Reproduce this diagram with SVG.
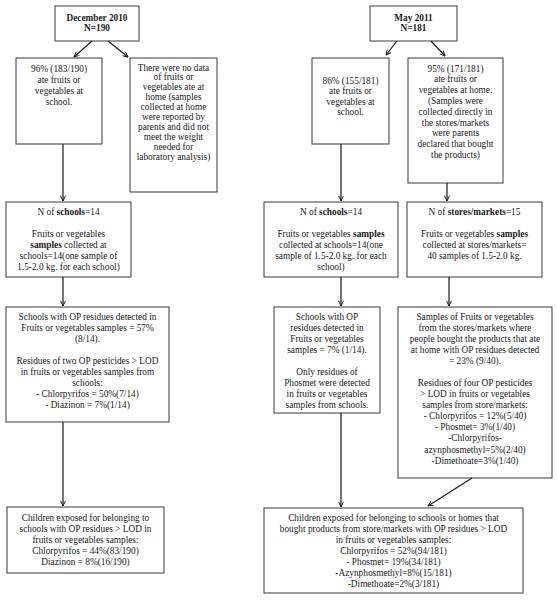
<svg xmlns="http://www.w3.org/2000/svg" width="557" height="600" viewBox="0 0 557 600">
<style>
.box{fill:#fff;stroke:#4a4a4a;stroke-width:1.1}
text{font-family:"Liberation Serif","Times New Roman",serif;font-size:9.3px;fill:#1a1a1a;text-anchor:middle}
.b{font-weight:bold}
.conn path{fill:none;stroke:#1a1a1a;stroke-width:1.2;marker-end:url(#ah)}
</style>
<defs>
<marker id="ah" viewBox="0 0 10 10" refX="9.5" refY="5" markerWidth="6" markerHeight="6" orient="auto" markerUnits="userSpaceOnUse">
<path d="M1,1 L9.5,5 L1,9" fill="none" stroke="#1a1a1a" stroke-width="1.6"/>
</marker>
</defs>
<rect width="557" height="600" fill="#fff"/>

<g id="dec2010">
<rect class="box" x="55" y="6" width="84" height="35"/>
<text class="b"><tspan x="97" y="20.5">December 2010</tspan><tspan x="97" y="31">N=190</tspan></text>
</g>
<g id="may2011">
<rect class="box" x="370" y="6" width="87" height="35"/>
<text class="b"><tspan x="413.5" y="20.5">May 2011</tspan><tspan x="413.5" y="31">N=181</tspan></text>
</g>

<g id="dec-school">
<rect class="box" x="16" y="58" width="86" height="86"/>
<text><tspan x="59" y="71.5">96% (183/190)</tspan><tspan x="59" y="82.5">ate fruits or</tspan><tspan x="59" y="93.5">vegetables at</tspan><tspan x="59" y="104.5">school.</tspan></text>
</g>
<g id="dec-home">
<rect class="box" x="130" y="58" width="87" height="134"/>
<text><tspan x="173.5" y="70.5">There were no data</tspan><tspan x="173.5" y="80.4">of fruits or</tspan><tspan x="173.5" y="90.3">vegetables ate at</tspan><tspan x="173.5" y="100.2">home (samples</tspan><tspan x="173.5" y="110.1">collected at home</tspan><tspan x="173.5" y="120">were reported by</tspan><tspan x="173.5" y="129.9">parents and did not</tspan><tspan x="173.5" y="139.8">meet the weight</tspan><tspan x="173.5" y="149.7">needed for</tspan><tspan x="173.5" y="159.6">laboratory analysis)</tspan></text>
</g>
<g id="may-school">
<rect class="box" x="312" y="58" width="77" height="86"/>
<text><tspan x="350.5" y="83.5">86% (155/181)</tspan><tspan x="350.5" y="94">ate fruits or</tspan><tspan x="350.5" y="104.5">vegetables at</tspan><tspan x="350.5" y="115">school.</tspan></text>
</g>
<g id="may-home">
<rect class="box" x="408" y="58" width="95" height="125"/>
<text><tspan x="455.5" y="71.5">95% (171/181)</tspan><tspan x="455.5" y="82.3">ate fruits or</tspan><tspan x="455.5" y="93.1">vegetables at home.</tspan><tspan x="455.5" y="103.9">(Samples were</tspan><tspan x="455.5" y="114.7">collected directly in</tspan><tspan x="455.5" y="125.5">the stores/markets</tspan><tspan x="455.5" y="136.3">were parents</tspan><tspan x="455.5" y="147.1">declared that bought</tspan><tspan x="455.5" y="157.9">the products)</tspan></text>
</g>

<g id="dec-nschools">
<rect class="box" x="6" y="202" width="125" height="75"/>
<text><tspan x="68.5" y="215">N of <tspan class="b">schools</tspan>=14</tspan><tspan x="68.5" y="236.5">Fruits or vegetables</tspan><tspan x="68.5" y="247.5"><tspan class="b">samples</tspan> collected at</tspan><tspan x="68.5" y="258.5">schools=14(one sample of</tspan><tspan x="68.5" y="269.5">1.5-2.0 kg. for each school)</tspan></text>
</g>
<g id="may-nschools">
<rect class="box" x="264" y="202" width="134" height="75"/>
<text><tspan x="331" y="215">N of <tspan class="b">schools</tspan>=14</tspan><tspan x="331" y="236.5">Fruits or vegetables <tspan class="b">samples</tspan></tspan><tspan x="331" y="247.5">collected at schools=14(one</tspan><tspan x="331" y="258.5">sample of 1.5-2.0 kg. for each</tspan><tspan x="331" y="269.5">school)</tspan></text>
</g>
<g id="may-nstores">
<rect class="box" x="407" y="202" width="135" height="75"/>
<text><tspan x="474.5" y="215">N of <tspan class="b">stores/markets</tspan>=15</tspan><tspan x="474.5" y="236.5">Fruits or vegetables <tspan class="b">samples</tspan></tspan><tspan x="474.5" y="247.5">collected at stores/markets=</tspan><tspan x="474.5" y="258.5">40 samples of 1.5-2.0 kg.</tspan></text>
</g>

<g id="dec-residues">
<rect class="box" x="6" y="307" width="163" height="115"/>
<text><tspan x="87.5" y="319.5">Schools with OP residues detected in</tspan><tspan x="87.5" y="330.5">Fruits or vegetables samples = 57%</tspan><tspan x="87.5" y="341.5">(8/14).</tspan><tspan x="87.5" y="363.5">Residues of two OP pesticides &gt; LOD</tspan><tspan x="87.5" y="374.5">in fruits or vegetables samples from</tspan><tspan x="87.5" y="385.5">schools:</tspan><tspan x="87.5" y="396.5">- Chlorpyrifos = 50%(7/14)</tspan><tspan x="87.5" y="407.5">- Diazinon = 7%(1/14)</tspan></text>
</g>
<g id="may-school-residues">
<rect class="box" x="274" y="307" width="106" height="106"/>
<text><tspan x="327" y="320">Schools with OP</tspan><tspan x="327" y="331">residues detected in</tspan><tspan x="327" y="342">Fruits or vegetables</tspan><tspan x="327" y="353">samples = 7% (1/14).</tspan><tspan x="327" y="375">Only residues of</tspan><tspan x="327" y="386">Phosmet were detected</tspan><tspan x="327" y="397">in fruits or vegetables</tspan><tspan x="327" y="408">samples from schools.</tspan></text>
</g>
<g id="may-store-residues">
<rect class="box" x="398" y="307" width="154" height="171"/>
<text><tspan x="475" y="320">Samples of Fruits or vegetables</tspan><tspan x="475" y="331">from the stores/markets where</tspan><tspan x="475" y="342">people bought the products that ate</tspan><tspan x="475" y="353">at home with OP residues detected</tspan><tspan x="475" y="364">= 23% (9/40).</tspan><tspan x="475" y="386">Residues of four OP pesticides</tspan><tspan x="475" y="397">&gt; LOD in fruits or vegetables</tspan><tspan x="475" y="408">samples from store/markets:</tspan><tspan x="475" y="419">- Chlorpyrifos = 12%(5/40)</tspan><tspan x="475" y="430">- Phosmet= 3%(1/40)</tspan><tspan x="475" y="441">-Chlorpyrifos-</tspan><tspan x="475" y="452.5">azynphosmethyl=5%(2/40)</tspan><tspan x="475" y="464">-Dimethoate=3%(1/40)</tspan></text>
</g>

<g id="dec-children">
<rect class="box" x="7" y="507" width="157" height="66"/>
<text><tspan x="85.5" y="520.5">Children exposed for belonging to</tspan><tspan x="85.5" y="531.5">schools with OP residues &gt; LOD in</tspan><tspan x="85.5" y="542.5">fruits or vegetables samples:</tspan><tspan x="85.5" y="553.5">Chlorpyrifos = 44%(83/190)</tspan><tspan x="85.5" y="564.5">Diazinon = 8%(16/190)</tspan></text>
</g>
<g id="may-children">
<rect class="box" x="264" y="508" width="259" height="85"/>
<text><tspan x="393.5" y="520.5">Children exposed for belonging to schools or homes that</tspan><tspan x="393.5" y="531.5">bought products from store/markets with OP residues &gt; LOD</tspan><tspan x="393.5" y="542.5">in fruits or vegetables samples:</tspan><tspan x="393.5" y="553.5">Chlorpyrifos = 52%(94/181)</tspan><tspan x="393.5" y="564.5">- Phosmet= 19%(34/181)</tspan><tspan x="393.5" y="575.5">-Azynphosmethyl=8%(15/181)</tspan><tspan x="393.5" y="586.5">-Dimethoate=2%(3/181)</tspan></text>
</g>

<g id="connectors" class="conn">
<path d="M92,41 L74,57"/>
<path d="M108,41 L128,57"/>
<path d="M63,144 L63,201"/>
<path d="M63,277 L63,306"/>
<path d="M63,422 L63,506"/>
<path d="M397,41 L386,55"/>
<path d="M431,41 L445,56"/>
<path d="M341,144 L341,201"/>
<path d="M447,183 L447,201"/>
<path d="M341,277 L341,306"/>
<path d="M449,277 L449,306"/>
<path d="M341,413 L341,507"/>
<path d="M472,478 L428,506"/>
</g>
</svg>
